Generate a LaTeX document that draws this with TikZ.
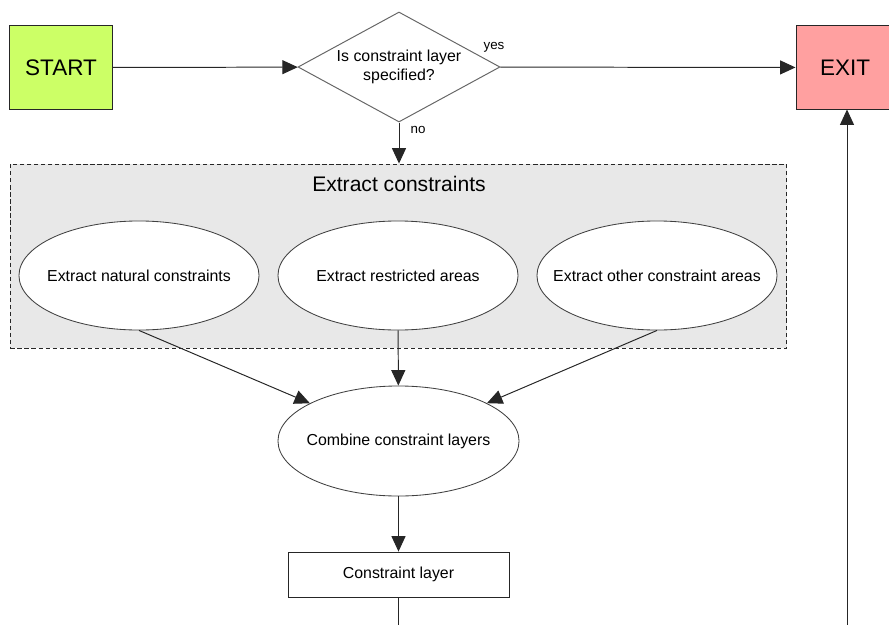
\documentclass[tikz,border=0pt]{standalone}
\usepackage{fontspec}
\setmainfont{Liberation Sans}
\usepackage{xcolor}
\usepackage{tikz}
\usetikzlibrary{arrows.meta,shapes.geometric}

\definecolor{startgreen}{RGB}{204,255,102}
\definecolor{exitred}{RGB}{255,160,160}
\definecolor{grpgray}{RGB}{232,232,232}

\begin{document}
\begin{tikzpicture}[
  x=0.025cm, y=-0.025cm,
  font=\fontsize{11.3}{13.5}\selectfont,
  term/.style={draw=black!85, line width=0.7pt, minimum width=2.55cm, minimum height=2.075cm, font=\fontsize{16}{18}\selectfont},
  dec/.style={draw=black!60, line width=0.7pt, diamond, aspect=1.84, inner sep=1pt, minimum width=5.05cm, minimum height=2.75cm, align=center},
  grp/.style={draw=black!85, dashed, dash pattern=on 3pt off 2pt, line width=0.6pt, fill=grpgray, minimum width=19.4cm, minimum height=4.6cm},
  proc/.style={draw=black!75, line width=0.6pt, ellipse, fill=white, inner xsep=-18pt, minimum width=6cm, minimum height=2.725cm},
  data/.style={draw=black!85, line width=0.6pt, fill=white, minimum width=5.525cm, minimum height=1.125cm},
  lbl/.style={font=\fontsize{9.5}{11}\selectfont},
  ar/.style={-{Triangle[length=11pt, width=10pt]}, draw=black!85, line width=0.7pt},
]
\clip (0,0) rectangle (889,625);
\node[term, fill=startgreen] (start) at (61,67.5) {START};
\node[dec] (spec) at (399,67) {Is constraint layer\\specified?};
\node[term, fill=exitred, minimum width=2.45cm] (exit) at (845,67.5) {EXIT};

% extraction group
\node[grp] (extract) at (398.5,256) {};
\node[font=\fontsize{15}{17}\selectfont] (title) at (399,184) {Extract constraints};
\node[proc] (nat) at (139,275.5) {Extract natural constraints};
\node[proc] (res) at (398,275.5) {Extract restricted areas};
\node[proc] (oth) at (657,275.5) {Extract other constraint areas};

\node[proc, minimum width=6.025cm, minimum height=2.75cm] (comb) at (398.5,441) {Combine constraint layers};
\node[data] (layer) at (398.5,574.5) {Constraint layer};
\coordinate (down) at (398.5,630);
\coordinate (back) at (847,630);

\node[lbl] (yes) at (494,47) {yes};
\node[lbl] (no) at (418,130) {no};

\draw[ar] (start)--(spec); \draw[ar] (spec)--(exit);
\draw[ar] (spec.south)--(spec.south |- extract.north);
\draw[ar] (nat.south)--(comb); \draw[ar] (res)--(comb); \draw[ar] (oth.south)--(comb);
\draw[ar] (comb)--(layer);
\draw[draw=black!85, line width=0.7pt] (layer)--(down);
\draw[ar] (back)--(back |- exit.south);
\end{tikzpicture}
\end{document}
